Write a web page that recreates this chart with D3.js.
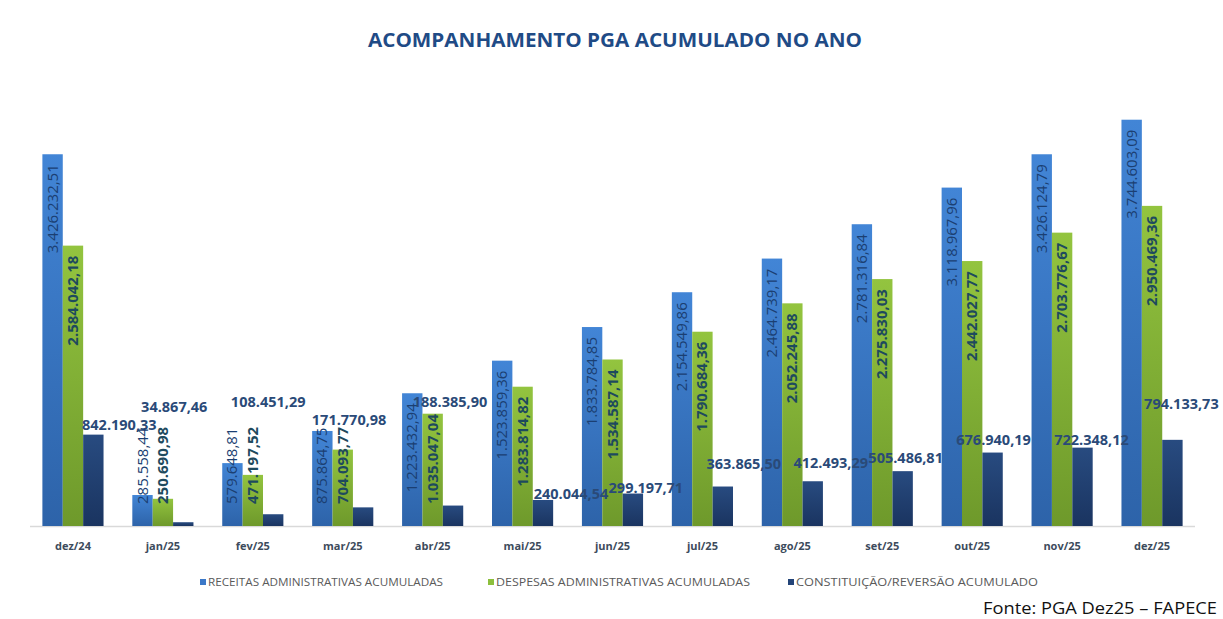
<!DOCTYPE html>
<html>
<head>
<meta charset="utf-8">
<script src="https://cdn.jsdelivr.net/npm/d3@7"></script>
<style>
  body { margin: 0; background: #fff; }
  svg { display: block; font-family: "Open Sans", sans-serif; }
</style>
</head>
<body>
<svg id="chart"></svg>
<script>
const categories = ['dez/24', 'jan/25', 'fev/25', 'mar/25', 'abr/25', 'mai/25', 'jun/25',
  'jul/25', 'ago/25', 'set/25', 'out/25', 'nov/25', 'dez/25'];

const receitas = [3426232.51, 285558.44, 579648.81, 875864.75, 1223432.94, 1523859.36, 1833784.85,
  2154549.86, 2464739.17, 2781316.84, 3118967.96, 3426124.79, 3744603.09];
const despesas = [2584042.18, 250690.98, 471197.52, 704093.77, 1035047.04, 1283814.82, 1534587.14,
  1790684.36, 2052245.88, 2275830.03, 2442027.77, 2703776.67, 2950469.36];
const constituicao = [842190.33, 34867.46, 108451.29, 171770.98, 188385.90, 240044.54, 299197.71,
  363865.50, 412493.29, 505486.81, 676940.19, 722348.12, 794133.73];

const seriesNames = ['RECEITAS ADMINISTRATIVAS ACUMULADAS', 'DESPESAS ADMINISTRATIVAS ACUMULADAS',
  'CONSTITUIÇÃO/REVERSÃO  ACUMULADO'];

// hand-moved labels of the dark series in the original (dx from bar centre, dy from bar top)
const darkLabelNudge = [[26, -5], [-9, -110], [-5, -107], [-14, -82], [-3, -99], [28, -1], [13, -1],
  [21, -18], [18, -13], [3, -8], [1, -8], [9, -3], [9, -31]];

const width = 1223;
const height = 619;
const baseY = 526;

const svg = d3.select('#chart')
  .attr('width', width)
  .attr('height', height)
  .attr('viewBox', [0, 0, width, height]);

const defs = svg.append('defs');
const grads = [
  ['gBlue', '#4285d6', '#2d63a9'],
  ['gGreen', '#93c43f', '#6e992b'],
  ['gDark', '#284b80', '#1a3460']
];
grads.forEach(([id, c0, c1]) => {
  const g = defs.append('linearGradient').attr('id', id)
    .attr('x1', 0).attr('y1', 0).attr('x2', 0).attr('y2', 1);
  g.append('stop').attr('offset', '0%').attr('stop-color', c0);
  g.append('stop').attr('offset', '100%').attr('stop-color', c1);
});
const fills = ['url(#gBlue)', 'url(#gGreen)', 'url(#gDark)'];
const legendColors = ['#3b78c8', '#8cbf3c', '#234478'];

const x = d3.scaleBand()
  .domain(categories)
  .range([28, 1197])
  .paddingInner(0.32)
  .paddingOuter(0.16);

const xs = d3.scaleBand()
  .domain([0, 1, 2])
  .range([0, x.bandwidth()]);

const y = d3.scaleLinear()
  .domain([0, 4000000])
  .range([baseY, 92]);

const fmt = v => {
  const [i, d] = v.toFixed(2).split('.');
  return i.replace(/\B(?=(\d{3})+(?!\d))/g, '.') + ',' + d;
};

// title
svg.append('text')
  .attr('x', 615)
  .attr('y', 47)
  .attr('text-anchor', 'middle')
  .attr('font-size', 19)
  .attr('font-weight', 700)
  .attr('fill', '#1f4b86')
  .attr('textLength', 494)
  .attr('lengthAdjust', 'spacingAndGlyphs')
  .text('ACOMPANHAMENTO PGA ACUMULADO NO ANO');

// axis line
svg.append('line')
  .attr('x1', 30).attr('x2', 1195)
  .attr('y1', baseY + 0.5).attr('y2', baseY + 0.5)
  .attr('stroke', '#d9d9d9')
  .attr('stroke-width', 1.5);

const allSeries = [receitas, despesas, constituicao];

const groups = svg.append('g')
  .selectAll('g')
  .data(categories)
  .join('g')
  .attr('transform', d => `translate(${x(d)},0)`);

groups.selectAll('rect')
  .data((d, i) => allSeries.map((s, k) => ({ k, v: s[i] })))
  .join('rect')
  .attr('x', d => xs(d.k))
  .attr('width', xs.bandwidth())
  .attr('y', d => y(d.v))
  .attr('height', d => baseY - y(d.v))
  .attr('fill', d => fills[d.k]);

// labels go in their own layer, above every bar
const labelStyle = [
  { color: '#1b3f72', weight: 400 },
  { color: '#1e4a5e', weight: 700 }
];
const labelLayer = svg.append('g');
categories.forEach((cat, i) => {
  const g = labelLayer.append('g').attr('transform', `translate(${x(cat)},0)`);
  [0, 1].forEach(k => {
    const v = allSeries[k][i];
    const t = g.append('text')
      .attr('font-size', 15)
      .attr('font-weight', labelStyle[k].weight)
      .attr('fill', labelStyle[k].color)
      .attr('text-anchor', 'start')
      .text(fmt(v));
    const len = t.node().getComputedTextLength();
    const bottom = Math.min(y(v) + 10 + len, baseY - 22);
    const cx = xs(k) + xs.bandwidth() / 2 + 5;
    t.attr('transform', `translate(${cx},${bottom}) rotate(-90)`);
  });
  const v = constituicao[i];
  const [dx, dy] = darkLabelNudge[i];
  g.append('text')
    .attr('x', xs(2) + xs.bandwidth() / 2 + dx)
    .attr('y', y(v) + dy)
    .attr('text-anchor', 'middle')
    .attr('font-size', 14.5)
    .attr('font-weight', 700)
    .attr('fill', '#2a4a78')
    .text(fmt(v));
});

// x axis labels
svg.append('g')
  .selectAll('text')
  .data(categories)
  .join('text')
  .attr('x', d => x(d) + x.bandwidth() / 2)
  .attr('y', 550)
  .attr('text-anchor', 'middle')
  .attr('font-size', 11)
  .attr('font-weight', 700)
  .attr('fill', '#3d4b5c')
  .text(d => d);

// legend
const legendX = [200, 488, 788];
const legendW = [243, 262, 250];
const legend = svg.append('g')
  .selectAll('g')
  .data(seriesNames)
  .join('g')
  .attr('transform', (d, i) => `translate(${legendX[i]},579)`);
legend.append('rect')
  .attr('width', 6).attr('height', 6)
  .attr('fill', (d, i) => legendColors[i]);
legend.append('text')
  .attr('x', 8)
  .attr('y', 6.5)
  .attr('font-size', 10)
  .attr('fill', '#5a5a5a')
  .attr('textLength', (d, i) => legendW[i] - 8)
  .attr('lengthAdjust', 'spacingAndGlyphs')
  .text(d => d);

// source
svg.append('text')
  .attr('x', 1217)
  .attr('y', 614)
  .attr('text-anchor', 'end')
  .attr('font-size', 15.5)
  .attr('fill', '#111')
  .attr('textLength', 234)
  .attr('lengthAdjust', 'spacingAndGlyphs')
  .text('Fonte: PGA  Dez25 – FAPECE');
</script>
</body>
</html>
